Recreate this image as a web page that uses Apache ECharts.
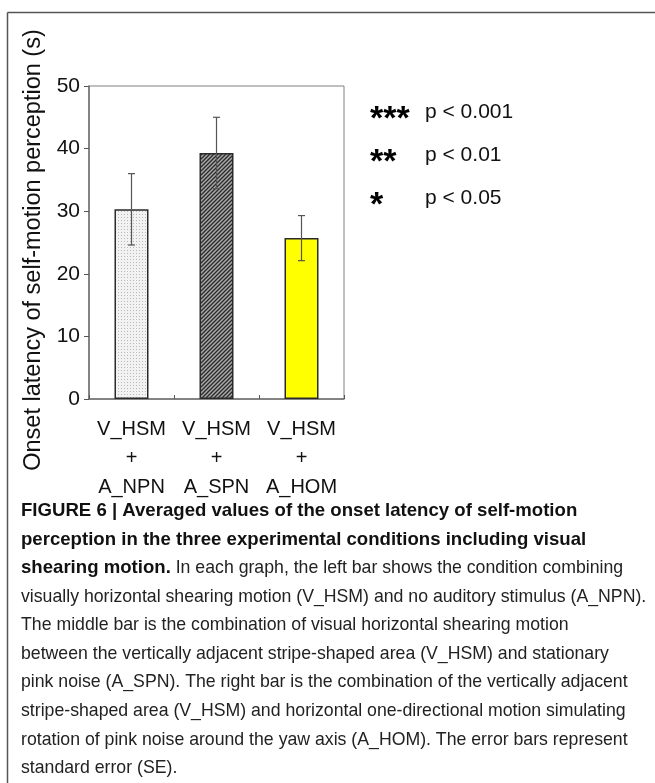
<!DOCTYPE html>
<html>
<head>
<meta charset="utf-8">
<script src="https://cdn.jsdelivr.net/npm/echarts@6/dist/echarts.min.js"></script>
<style>
html,body{margin:0;padding:0;background:#fff;}
#chart{width:655px;height:783px;}
</style>
</head>
<body>
<div id="chart"></div>
<script>
// ---- data ----
var categories = ['V_HSM\n+\nA_NPN', 'V_HSM\n+\nA_SPN', 'V_HSM\n+\nA_HOM'];
var means = [30.3, 39.3, 25.7];
var errors = [5.7, 5.7, 3.6];
var yTicks = [0, 10, 20, 30, 40, 50];
var yTitle = 'Onset latency of self-motion perception (s)';
var sigMarks = ['***', '**', '*'];
var sigLabels = ['p < 0.001', 'p < 0.01', 'p < 0.05'];
var captionLines = [
  {b: 'FIGURE 6 | Averaged values of the onset latency of self-motion', r: ''},
  {b: 'perception in the three experimental conditions including visual', r: ''},
  {b: 'shearing motion.', r: ' In each graph, the left bar shows the condition combining'},
  {b: '', r: 'visually horizontal shearing motion (V_HSM) and no auditory stimulus (A_NPN).'},
  {b: '', r: 'The middle bar is the combination of visual horizontal shearing motion'},
  {b: '', r: 'between the vertically adjacent stripe-shaped area (V_HSM) and stationary'},
  {b: '', r: 'pink noise (A_SPN). The right bar is the combination of the vertically adjacent'},
  {b: '', r: 'stripe-shaped area (V_HSM) and horizontal one-directional motion simulating'},
  {b: '', r: 'rotation of pink noise around the yaw axis (A_HOM). The error bars represent'},
  {b: '', r: 'standard error (SE).'}
];

// ---- patterns ----
function dotPattern() {
  var c = document.createElement('canvas'); c.width = 3; c.height = 3;
  var g = c.getContext('2d');
  g.fillStyle = '#f2f2f2'; g.fillRect(0, 0, 3, 3);
  g.fillStyle = '#b8b8b8'; g.fillRect(1, 1, 1, 1);
  return c;
}
function hatchPattern() {
  var s = 4;
  var c = document.createElement('canvas'); c.width = s; c.height = s;
  var g = c.getContext('2d');
  g.fillStyle = '#a8a8a8'; g.fillRect(0, 0, s, s);
  g.strokeStyle = '#2a2a2a'; g.lineWidth = 1.3;
  g.beginPath();
  g.moveTo(-1, s + 1); g.lineTo(s + 1, -1);
  g.moveTo(-1, 1); g.lineTo(1, -1);
  g.moveTo(s - 1, s + 1); g.lineTo(s + 1, s - 1);
  g.stroke();
  return c;
}
var fills = [
  {image: dotPattern(), repeat: 'repeat'},
  {image: hatchPattern(), repeat: 'repeat'},
  '#ffff00'
];

var FONT = 'Liberation Sans, Arial, sans-serif';
var chart = echarts.init(document.getElementById('chart'), null, {renderer: 'canvas'});

var barData = means.map(function (v, i) {
  return {value: v, itemStyle: {color: fills[i], borderColor: '#2a2a2a', borderWidth: 1.5}};
});
var errData = means.map(function (v, i) { return [i, v - errors[i], v + errors[i]]; });

var graphics = [
  {type: 'line', shape: {x1: 7.5, y1: 12.5, x2: 655, y2: 12.5}, style: {stroke: '#555', lineWidth: 1.5}, silent: true},
  {type: 'line', shape: {x1: 7.5, y1: 12.5, x2: 7.5, y2: 783}, style: {stroke: '#555', lineWidth: 1.5}, silent: true},
  {type: 'text', x: 34, y: 250, rotation: Math.PI / 2,
   style: {text: yTitle, font: '23.5px ' + FONT, fill: '#111', align: 'center', verticalAlign: 'middle'}}
];
var sigY = [112, 155, 198];
sigMarks.forEach(function (m, i) {
  graphics.push({type: 'text', x: 370, y: sigY[i] + 8,
    style: {text: m, font: 'bold 34px ' + FONT, fill: '#000', align: 'left', verticalAlign: 'middle'}});
  graphics.push({type: 'text', x: 425, y: sigY[i],
    style: {text: sigLabels[i], font: '21px ' + FONT, fill: '#111', align: 'left', verticalAlign: 'middle'}});
});
captionLines.forEach(function (ln, i) {
  var y = 511 + i * 28.6;
  var t = '';
  if (ln.b) t += '{b|' + ln.b + '}';
  if (ln.r) t += '{r|' + ln.r + '}';
  graphics.push({type: 'text', x: 21, y: y,
    style: {text: t, align: 'left', verticalAlign: 'middle',
      rich: {
        b: {font: 'bold 18.6px ' + FONT, fill: '#111'},
        r: {font: '17.7px ' + FONT, fill: '#222'}
      }}});
});

chart.setOption({
  animation: false,
  backgroundColor: '#fff',
  grid: {left: 89, top: 86, right: 311, bottom: 384, show: true, borderColor: '#808080', borderWidth: 1, backgroundColor: 'transparent'},
  xAxis: {
    type: 'category', data: categories,
    axisLine: {lineStyle: {color: '#707070', width: 1.5}},
    axisTick: {show: true, inside: true, length: 4, alignWithLabel: false, interval: 0, lineStyle: {color: '#555'}},
    axisLabel: {color: '#111', fontFamily: FONT, fontSize: 20, lineHeight: 29, margin: 16, interval: 0}
  },
  yAxis: {
    type: 'value', min: 0, max: 50, interval: 10,
    axisLine: {show: true, lineStyle: {color: '#707070', width: 1.5}},
    axisTick: {show: true, length: 5, lineStyle: {color: '#555'}},
    splitLine: {show: false},
    axisLabel: {color: '#111', fontFamily: FONT, fontSize: 21, margin: 9,
      formatter: function (v) { return yTicks.indexOf(v) >= 0 ? String(v) : ''; }}
  },
  series: [
    {type: 'bar', data: barData, barWidth: '40%', silent: true},
    {type: 'custom', data: errData, silent: true, z: 5,
      renderItem: function (params, api) {
        var x = api.value(0);
        var lo = api.coord([x, api.value(1)]);
        var hi = api.coord([x, api.value(2)]);
        var cw = 3.5;
        var st = {stroke: '#555', lineWidth: 1.2};
        return {type: 'group', children: [
          {type: 'line', shape: {x1: hi[0], y1: hi[1], x2: lo[0], y2: lo[1]}, style: st},
          {type: 'line', shape: {x1: hi[0] - cw, y1: hi[1], x2: hi[0] + cw, y2: hi[1]}, style: st},
          {type: 'line', shape: {x1: lo[0] - cw, y1: lo[1], x2: lo[0] + cw, y2: lo[1]}, style: st}
        ]};
      }}
  ],
  graphic: graphics
});
</script>
</body>
</html>
